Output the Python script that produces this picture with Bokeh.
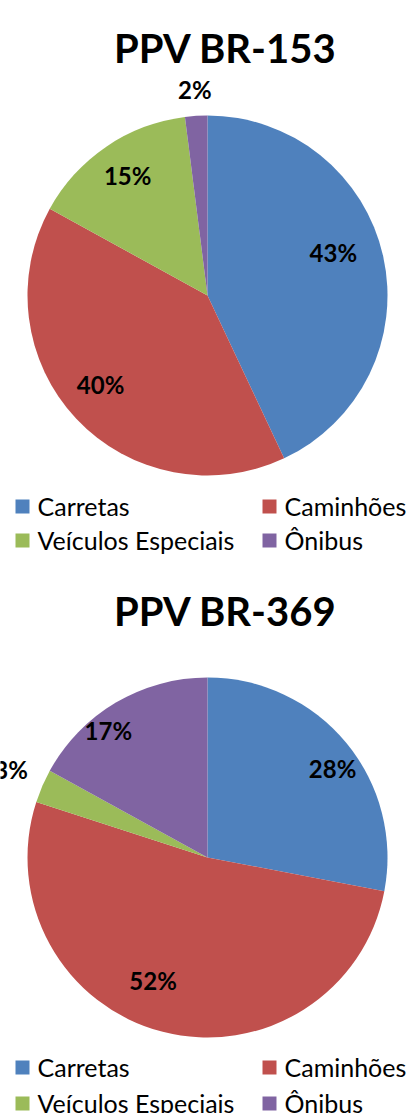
import math
from bokeh.plotting import figure
from bokeh.models import Range1d, ColumnDataSource
from bokeh.core.properties import value
from bokeh.embed import file_html
from bokeh.resources import INLINE

# ---- data ----
categories = ["Carretas", "Caminhões", "Veículos Especiais", "Ônibus"]
titles = ["PPV BR-153", "PPV BR-369"]
br153_values = [43, 40, 15, 2]
br369_values = [28, 52, 3, 17]
colors = ["#4F81BD", "#C0504D", "#9BBB59", "#8064A2"]

# ---- layout (page pixel coordinates) ----
W, H = 408, 1113
R = 180
charts = [
    dict(values=br153_values, title=titles[0], cx=207, cy=295, title_y=47,
         legend_y=(506, 540), label_r=[132, 141, 142, 203],
         label_turn=[-5, 2.5, 0, 0]),
    dict(values=br369_values, title=titles[1], cx=207, cy=857, title_y=610,
         legend_y=(1067, 1103), label_r=[152, 137, 214, 159],
         label_turn=[5, 9, 0, -8]),
]

def Y(py):
    return H - py

p = figure(width=W, height=H, output_backend="svg", toolbar_location=None,
           x_range=Range1d(0, W), y_range=Range1d(0, H),
           min_border=0, outline_line_color=None)
p.axis.visible = False
p.grid.visible = False
p.background_fill_color = "white"
p.border_fill_color = "white"

FONT = "Lato"

for c in charts:
    vals = c["values"]
    total = float(sum(vals))
    starts, ends, lx, ly, labels = [], [], [], [], []
    cum = 0.0
    for v, lr, lt in zip(vals, c["label_r"], c["label_turn"]):
        a0 = math.pi / 2 - 2 * math.pi * cum / total
        cum += v
        a1 = math.pi / 2 - 2 * math.pi * cum / total
        starts.append(a0)
        ends.append(a1)
        mid = (a0 + a1) / 2 - math.radians(lt)
        lx.append(c["cx"] + lr * math.cos(mid))
        ly.append(Y(c["cy"]) + lr * math.sin(mid) + 3)
        labels.append(f"{v}%")
    src = ColumnDataSource(dict(start=starts, end=ends, color=colors))
    p.wedge(x=c["cx"], y=Y(c["cy"]), radius=R, start_angle="start", end_angle="end",
            direction="clock", fill_color="color", line_color=None, source=src)
    p.text(x=lx, y=ly, text=labels, text_font=value(FONT), text_font_style="bold",
           text_font_size="24px", text_align="center", text_baseline="middle",
           text_color="#000000")
    # title
    p.text(x=[c["cx"] + 18], y=[Y(c["title_y"])], text=[c["title"]], text_font=value(FONT),
           text_font_style="bold", text_font_size="40px", text_align="center",
           text_baseline="alphabetic", text_color="#000000")
    # legend
    sq_x = [22, 269, 22, 269]
    sq_y = [c["legend_y"][0], c["legend_y"][0], c["legend_y"][1], c["legend_y"][1]]
    p.rect(x=sq_x, y=[Y(v) for v in sq_y], width=14, height=14, fill_color=colors,
           line_color=None)
    p.text(x=[x + 15 for x in sq_x], y=[Y(v) + 1 for v in sq_y], text=categories,
           text_font=value(FONT), text_font_size="25px", text_align="left",
           text_baseline="middle", text_color="#000000")

open("out.html", "w").write(file_html(p, INLINE))
